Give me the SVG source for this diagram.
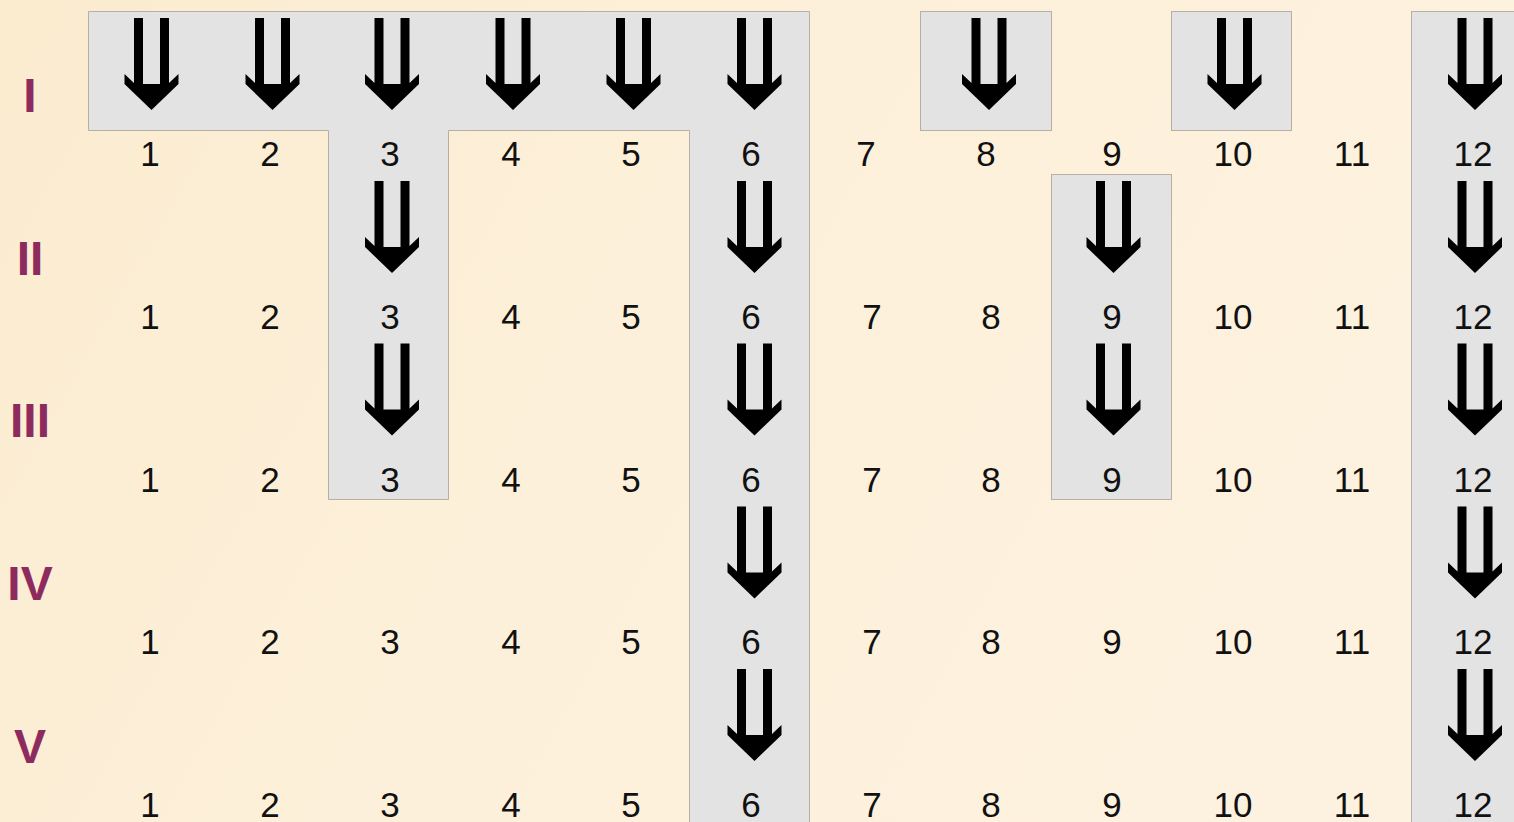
<svg xmlns="http://www.w3.org/2000/svg" xmlns:xlink="http://www.w3.org/1999/xlink" width="1514" height="822" viewBox="0 0 1514 822">
<style>
.box{fill:#e3e3e3;stroke:#b7aea4;stroke-width:1}
.num{font-family:"Liberation Sans",Arial,sans-serif;font-size:35px;fill:#111;text-anchor:middle}
.rom{font-family:"Liberation Sans",Arial,sans-serif;font-size:48px;font-weight:bold;fill:#8e2b5e;text-anchor:middle}
.arr{fill:#000}
</style>
<defs>
<linearGradient id="bg" x1="0" y1="0" x2="1" y2="0.3">
<stop offset="0" stop-color="#fbecd0"/>
<stop offset="0.5" stop-color="#fdf0da"/>
<stop offset="1" stop-color="#fdf2df"/>
</linearGradient>
<path id="dn" d="M-17.5,0 H-8.5 V66 H8.5 V0 H17.5 V65 L27,56 V66 L0,92 L-27,66 V56 L-17.5,65 Z"/>
</defs>
<rect x="0" y="0" width="1514" height="822" fill="url(#bg)"/>

<g id="shaded-regions">
<path id="region-main" class="box" d="M88.5,11.5 H809.5 V830 H689.5 V130.5 H448.5 V499.5 H328.5 V130.5 H88.5 Z"/>
<rect id="region-col8" class="box" x="920.5" y="11.5" width="131" height="119"/>
<rect id="region-col10" class="box" x="1171.5" y="11.5" width="120" height="119"/>
<rect id="region-col9" class="box" x="1051.5" y="174.5" width="120" height="325"/>
<rect id="region-col12" class="box" x="1411.5" y="11.5" width="130" height="830"/>
</g>

<g id="row-numerals">
<text class="rom" x="30" y="112">I</text>
<text class="rom" x="30" y="275">II</text>
<text class="rom" x="30" y="437">III</text>
<text class="rom" x="30" y="600">IV</text>
<text class="rom" x="30" y="763">V</text>
</g>

<g id="row-1">
<text class="num" x="150" y="166">1</text>
<text class="num" x="270" y="166">2</text>
<text class="num" x="390" y="166">3</text>
<text class="num" x="511" y="166">4</text>
<text class="num" x="631" y="166">5</text>
<text class="num" x="751" y="166">6</text>
<text class="num" x="866" y="166">7</text>
<text class="num" x="986" y="166">8</text>
<text class="num" x="1112" y="166">9</text>
<text class="num" x="1233" y="166">10</text>
<text class="num" x="1352" y="166">11</text>
<text class="num" x="1473" y="166">12</text>
</g>
<g id="row-2">
<text class="num" x="150" y="329">1</text>
<text class="num" x="270" y="329">2</text>
<text class="num" x="390" y="329">3</text>
<text class="num" x="511" y="329">4</text>
<text class="num" x="631" y="329">5</text>
<text class="num" x="751" y="329">6</text>
<text class="num" x="872" y="329">7</text>
<text class="num" x="991" y="329">8</text>
<text class="num" x="1112" y="329">9</text>
<text class="num" x="1233" y="329">10</text>
<text class="num" x="1352" y="329">11</text>
<text class="num" x="1473" y="329">12</text>
</g>
<g id="row-3">
<text class="num" x="150" y="491.5">1</text>
<text class="num" x="270" y="491.5">2</text>
<text class="num" x="390" y="491.5">3</text>
<text class="num" x="511" y="491.5">4</text>
<text class="num" x="631" y="491.5">5</text>
<text class="num" x="751" y="491.5">6</text>
<text class="num" x="872" y="491.5">7</text>
<text class="num" x="991" y="491.5">8</text>
<text class="num" x="1112" y="491.5">9</text>
<text class="num" x="1233" y="491.5">10</text>
<text class="num" x="1352" y="491.5">11</text>
<text class="num" x="1473" y="491.5">12</text>
</g>
<g id="row-4">
<text class="num" x="150" y="654">1</text>
<text class="num" x="270" y="654">2</text>
<text class="num" x="390" y="654">3</text>
<text class="num" x="511" y="654">4</text>
<text class="num" x="631" y="654">5</text>
<text class="num" x="751" y="654">6</text>
<text class="num" x="872" y="654">7</text>
<text class="num" x="991" y="654">8</text>
<text class="num" x="1112" y="654">9</text>
<text class="num" x="1233" y="654">10</text>
<text class="num" x="1352" y="654">11</text>
<text class="num" x="1473" y="654">12</text>
</g>
<g id="row-5">
<text class="num" x="150" y="817">1</text>
<text class="num" x="270" y="817">2</text>
<text class="num" x="390" y="817">3</text>
<text class="num" x="511" y="817">4</text>
<text class="num" x="631" y="817">5</text>
<text class="num" x="751" y="817">6</text>
<text class="num" x="872" y="817">7</text>
<text class="num" x="991" y="817">8</text>
<text class="num" x="1112" y="817">9</text>
<text class="num" x="1233" y="817">10</text>
<text class="num" x="1352" y="817">11</text>
<text class="num" x="1473" y="817">12</text>
</g>

<g id="arrows" class="arr">
<use xlink:href="#dn" href="#dn" x="151.5" y="18"/>
<use xlink:href="#dn" href="#dn" x="272.5" y="18"/>
<use xlink:href="#dn" href="#dn" x="392" y="18"/>
<use xlink:href="#dn" href="#dn" x="513" y="18"/>
<use xlink:href="#dn" href="#dn" x="633.5" y="18"/>
<use xlink:href="#dn" href="#dn" x="754.5" y="18"/>
<use xlink:href="#dn" href="#dn" x="989" y="18"/>
<use xlink:href="#dn" href="#dn" x="1234.5" y="18"/>
<use xlink:href="#dn" href="#dn" x="1475" y="18"/>

<use xlink:href="#dn" href="#dn" x="392" y="181"/>
<use xlink:href="#dn" href="#dn" x="754.5" y="181"/>
<use xlink:href="#dn" href="#dn" x="1113.5" y="181"/>
<use xlink:href="#dn" href="#dn" x="1475" y="181"/>

<use xlink:href="#dn" href="#dn" x="392" y="343.5"/>
<use xlink:href="#dn" href="#dn" x="754.5" y="343.5"/>
<use xlink:href="#dn" href="#dn" x="1113.5" y="343.5"/>
<use xlink:href="#dn" href="#dn" x="1475" y="343.5"/>

<use xlink:href="#dn" href="#dn" x="754.5" y="506.5"/>
<use xlink:href="#dn" href="#dn" x="1475" y="506.5"/>

<use xlink:href="#dn" href="#dn" x="754.5" y="669"/>
<use xlink:href="#dn" href="#dn" x="1475" y="669"/>
</g>
</svg>
